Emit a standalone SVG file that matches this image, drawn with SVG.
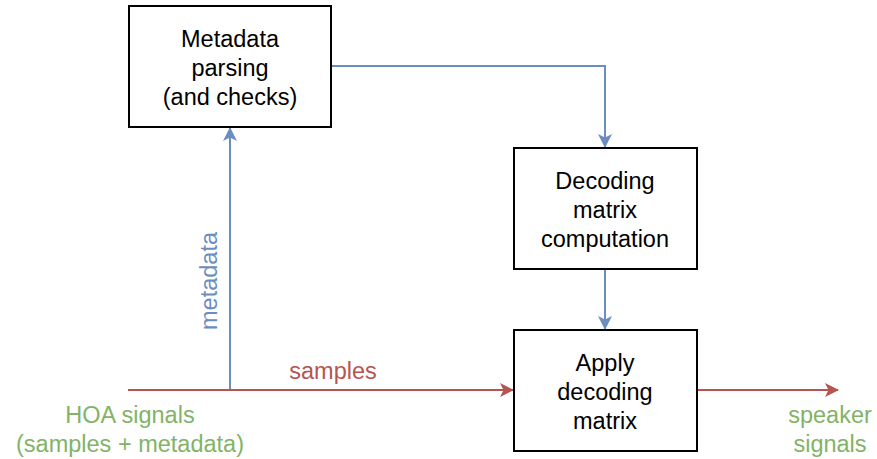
<svg xmlns="http://www.w3.org/2000/svg" width="877" height="459" viewBox="0 0 877 459">
<style>
.box{fill:#fff;stroke:#000;stroke-width:2}
.t{font-family:"Liberation Sans",Arial,sans-serif;font-size:23.5px;text-anchor:middle;fill:#000}
.blue{stroke:#6c8ebf;stroke-width:2;fill:none}
.red{stroke:#b85450;stroke-width:2;fill:none}
.tb{fill:#6c8ebf}.tr{fill:#b85450}.tg{fill:#82b366}
</style>
<defs>
<marker id="ab" viewBox="0 0 14 14" refX="13" refY="7" markerWidth="14" markerHeight="14" markerUnits="userSpaceOnUse" orient="auto"><path d="M0,0 L14,7 L0,14 L3.5,7 Z" fill="#6c8ebf"/></marker>
<marker id="ar" viewBox="0 0 14 14" refX="13" refY="7" markerWidth="14" markerHeight="14" markerUnits="userSpaceOnUse" orient="auto"><path d="M0,0 L14,7 L0,14 L3.5,7 Z" fill="#b85450"/></marker>
</defs>
<g id="connectors">
<path class="blue" d="M331,66 H605 V147" marker-end="url(#ab)"/>
<path class="blue" d="M605,269 V329" marker-end="url(#ab)"/>
<path class="blue" d="M230,390 V128" marker-end="url(#ab)"/>
<path class="red" d="M128,390 H513" marker-end="url(#ar)"/>
<path class="red" d="M697,390 H838" marker-end="url(#ar)"/>
<text class="t tr" x="333" y="379">samples</text>
<text class="t tb" transform="translate(217,281) rotate(-90)">metadata</text>
<text class="t tg" x="130" y="423">HOA signals</text>
<text class="t tg" x="130" y="452">(samples + metadata)</text>
<text class="t tg" x="830" y="423">speaker</text>
<text class="t tg" x="830" y="452">signals</text>
</g>
<g id="metadata-parsing">
<rect class="box" x="129" y="6" width="202" height="121"/>
<text class="t" x="230" y="47">Metadata</text>
<text class="t" x="230" y="76">parsing</text>
<text class="t" x="230" y="105">(and checks)</text>
</g>
<g id="decoding-matrix">
<rect class="box" x="514" y="148" width="183" height="121"/>
<text class="t" x="605" y="189">Decoding</text>
<text class="t" x="605" y="218">matrix</text>
<text class="t" x="605" y="247">computation</text>
</g>
<g id="apply-matrix">
<rect class="box" x="514" y="330" width="183" height="121"/>
<text class="t" x="605" y="371">Apply</text>
<text class="t" x="605" y="400">decoding</text>
<text class="t" x="605" y="429">matrix</text>
</g>
</svg>
